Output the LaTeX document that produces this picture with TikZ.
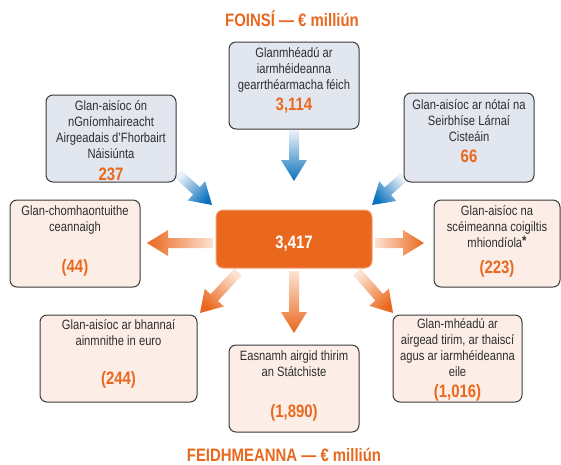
\documentclass[tikz,border=0pt]{standalone}
\usepackage{fontspec}
\setmainfont{Liberation Sans}[FakeStretch=0.83]
\usetikzlibrary{calc}

\definecolor{orng}{HTML}{E9681E}
\definecolor{srcfill}{HTML}{E1E6EF}
\definecolor{usefill}{HTML}{FCEEE6}
\definecolor{edge}{HTML}{3A3A3A}
\definecolor{bluedk}{HTML}{0A72BD}
\definecolor{bluelt}{HTML}{EEF3FA}
\definecolor{orglt}{HTML}{FCE3D2}

\tikzset{
	box/.style={draw=edge, line width=1pt, rounded corners=7pt, minimum width=130pt, minimum height=87pt, inner sep=0pt},
	srcbox/.style={box, fill=srcfill},
	usebox/.style={box, fill=usefill},
	txt/.style={anchor=north, inner sep=0pt, align=center, text=black!82, font=\fontsize{13.5}{16}\selectfont, execute at begin node=\strut},
	num/.style={anchor=base, inner sep=0pt, text=orng, font=\bfseries\fontsize{18}{20}\selectfont},
}

% block arrow from #1 to #2, light colour #3 at the tail, dark colour #4 at the tip
\def\flowarrow#1#2#3#4{
	\pgfmathanglebetweenpoints{\pgfpointanchor{#1}{center}}{\pgfpointanchor{#2}{center}}
	\pgfmathsetmacro\arrowang{\pgfmathresult+90}
	\coordinate (hb) at ($(#2)!21pt!(#1)$);
	\shade[top color=#3, bottom color=#4, shading angle=\arrowang]
		($(#1)!5pt!90:(#2)$) -- ($(hb)!5pt!-90:(#1)$) -- ($(hb)!13pt!-90:(#1)$) -- (#2)
		-- ($(hb)!13pt!90:(#1)$) -- ($(hb)!5pt!90:(#1)$) -- ($(#1)!5pt!-90:(#2)$) -- cycle;
}

\begin{document}
\begin{tikzpicture}[x=1pt, y=-1pt]
		%%%%% START %%%%%
		\useasboundingbox (0,0) rectangle (561,464);
		
		% arrow ends
		\coordinate (tcout) at (294,130);
		\coordinate (tcin) at (294,181);
		\coordinate (tlout) at (178,174);
		\coordinate (tlin) at (212,205);
		\coordinate (trout) at (404,177);
		\coordinate (trin) at (372,205);
		\coordinate (mlout) at (213,243);
		\coordinate (mlin) at (147,243);
		\coordinate (mrout) at (375,243);
		\coordinate (mrin) at (424,243);
		\coordinate (blout) at (238,272);
		\coordinate (blin) at (200,313);
		\coordinate (bcout) at (294,271);
		\coordinate (bcin) at (294,333);
		\coordinate (brout) at (357,272);
		\coordinate (brin) at (393,313);
		
		\flowarrow{tcout}{tcin}{bluelt}{bluedk}
		\flowarrow{tlout}{tlin}{bluelt}{bluedk}
		\flowarrow{trout}{trin}{bluelt}{bluedk}
		\flowarrow{mlout}{mlin}{orglt}{orng}
		\flowarrow{mrout}{mrin}{orglt}{orng}
		\flowarrow{blout}{blin}{orglt}{orng}
		\flowarrow{bcout}{bcin}{orglt}{orng}
		\flowarrow{brout}{brin}{orglt}{orng}
		
		% titles
		\node[num] (srctitle) at (292,26.5) {FOINSÍ — € milliún};
		\node[num] (usetitle) at (284,461) {FEIDHMEANNA — € milliún};
		
		% centre
		\node[box, draw=orng!60, fill=orng, minimum width=156pt, minimum height=58pt] (ctr) at (294,239) {};
		\node[num, text=white] (ctrnum) at (294,248.5) {3,417};
		
		% sources
		\node[srcbox] (tc) at (294,85.5) {};
		\node[txt] (tctxt) at (294,47.3) {Glanmhéadú ar\\iarmhéideanna\\gearrthéarmacha féich};
		\node[num] (tcnum) at (294,110.5) {3,114};
		
		\node[srcbox] (tl) at (111,138.5) {};
		\node[txt] (tltxt) at (111,100.3) {Glan-aisíoc ón\\nGníomhaireacht\\Airgeadais d’Fhorbairt\\Náisiúnta};
		\node[num] (tlnum) at (111,180.5) {237};
		
		\node[srcbox, minimum height=89pt] (tr) at (469,137.5) {};
		\node[txt] (trtxt) at (469,99.3) {Glan-aisíoc ar nótaí na\\Seirbhíse Lárnaí\\Cisteáin};
		\node[num] (trnum) at (469,162.5) {66};
		
		% uses
		\node[usebox] (ml) at (75,243.5) {};
		\node[txt] (mltxt) at (75,205.3) {Glan-chomhaontuithe\\ceannaigh};
		\node[num] (mlnum) at (75,272.5) {(44)};
		
		\node[usebox, minimum width=126pt] (mr) at (497,243.5) {};
		\node[txt] (mrtxt) at (497,205.3) {Glan-aisíoc na\\scéimeanna coigiltis\\mhiondíola\raisebox{1.5pt}{\bfseries*}};
		\node[num] (mrnum) at (497,273.5) {(223)};
		
		\node[usebox, minimum width=157pt] (bl) at (118.5,358.5) {};
		\node[txt] (bltxt) at (118.5,319.3) {Glan-aisíoc ar bhannaí\\ainmnithe in euro};
		\node[num] (blnum) at (118.5,384.5) {(244)};
		
		\node[usebox] (bc) at (294,388.5) {};
		\node[txt] (bctxt) at (294,350.3) {Easnamh airgid thirim\\an Státchiste};
		\node[num] (bcnum) at (294,417.5) {(1,890)};
		
		\node[usebox, minimum width=129pt] (br) at (457.5,358.5) {};
		\node[txt] (brtxt) at (457.5,318.3) {Glan-mhéadú ar\\airgead tirim, ar thaiscí\\agus ar iarmhéideanna\\eile};
		\node[num] (brnum) at (457.5,397.5) {(1,016)};
		
		%%%%% END %%%%%
	\end{tikzpicture}
\end{document}
